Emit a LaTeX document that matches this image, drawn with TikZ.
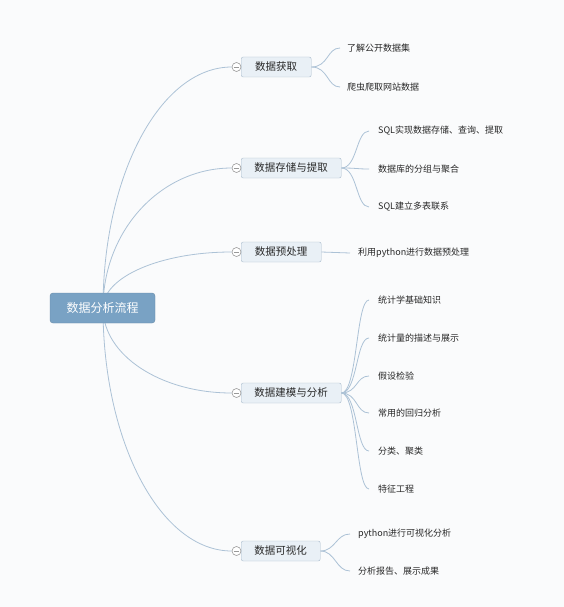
\documentclass[tikz,border=0pt]{standalone}
\usepackage{fontspec}
\newfontfamily\cjk{Noto Sans CJK SC}
\usetikzlibrary{backgrounds}
\definecolor{bgc}{RGB}{250,251,252}
\definecolor{rootc}{RGB}{121,162,196}
\definecolor{boxc}{RGB}{233,240,246}
\definecolor{boxline}{RGB}{170,188,204}
\definecolor{linkc}{RGB}{172,194,214}
\definecolor{txt}{RGB}{40,40,40}
\tikzset{
  rootbox/.style={draw=rootc!85!black, fill=rootc, rounded corners=3pt, minimum width=105pt, minimum height=30pt, inner sep=0pt, text=white, font=\cjk\fontsize{12}{12}\selectfont},
  branchbox/.style={draw=boxline, fill=boxc, rounded corners=2pt, minimum height=20pt, inner sep=0pt, text=txt, font=\cjk\fontsize{10.5}{10.5}\selectfont, anchor=west},
  leaf/.style={anchor=west, inner xsep=0pt, inner ysep=2pt, text=txt, font=\cjk\fontsize{9}{9}\selectfont},
  knob/.style={circle, draw=gray!80, fill=white, minimum size=9pt, inner sep=0pt, line width=0.6pt},
  link/.style={draw=linkc, line width=0.8pt},
}
\begin{document}
\begin{tikzpicture}[x=1pt,y=-1pt]
\useasboundingbox (0,0) rectangle (564,607);
\coordinate (rc) at (103,308);
\node[rootbox] (root) at (102.5,308) {数据分析流程};
% branches
\node[branchbox, minimum width=70pt] (b1) at (241,67) {数据获取};
\node[branchbox, minimum width=100pt] (b2) at (241,168) {数据存储与提取};
\node[branchbox, minimum width=80pt] (b3) at (241,252) {数据预处理};
\node[branchbox, minimum width=100pt] (b4) at (241,393) {数据建模与分析};
\node[branchbox, minimum width=79pt] (b5) at (241,551) {数据可视化};
\foreach \i/\y in {1/67,2/168,3/252,4/393,5/551}{
  \node[knob] (k\i) at (236.5,\y) {};
  \draw[gray!80, line width=0.6pt] ([xshift=-2.6pt]k\i.center) -- ([xshift=2.6pt]k\i.center);
}
% leaves
\node[leaf] (l11) at (347,48) {了解公开数据集};
\node[leaf] (l12) at (347,87) {爬虫爬取网站数据};
\node[leaf] (l21) at (378,131) {SQL实现数据存储、查询、提取};
\node[leaf] (l22) at (378,169) {数据库的分组与聚合};
\node[leaf] (l23) at (378,207) {SQL建立多表联系};
\node[leaf] (l31) at (358,253) {利用python进行数据预处理};
\node[leaf] (l41) at (378,300) {统计学基础知识};
\node[leaf] (l42) at (378,338) {统计量的描述与展示};
\node[leaf] (l43) at (378,376) {假设检验};
\node[leaf] (l44) at (378,413) {常用的回归分析};
\node[leaf] (l45) at (378,451) {分类、聚类};
\node[leaf] (l46) at (378,489) {特征工程};
\node[leaf] (l51) at (358,534) {python进行可视化分析};
\node[leaf] (l52) at (358,571) {分析报告、展示成果};
\begin{scope}[on background layer]
\fill[bgc] (0,0) rectangle (564,607);
\draw[link] (rc) .. controls (103,175) and (160.3,67) .. (k1.west);
\draw[link] (rc) .. controls (103,231) and (160.3,168) .. (k2.west);
\draw[link] (rc) .. controls (103,277) and (160.3,252) .. (k3.west);
\draw[link] (rc) .. controls (103,355) and (160.3,393) .. (k4.west);
\draw[link] (rc) .. controls (103,442) and (160.3,551) .. (k5.west);
% leaf links
\foreach \b/\l in {b1/l11,b1/l12}{
  \draw[link] (\b.east) .. controls +(17,0) and ([xshift=-20pt]\l.west) .. ([xshift=-7pt]\l.west);
}
\foreach \b/\l in {b2/l21,b2/l22,b2/l23,b4/l41,b4/l42,b4/l43,b4/l44,b4/l45,b4/l46}{
  \draw[link] (\b.east) .. controls +(16,0) and ([xshift=-22pt]\l.west) .. ([xshift=-9pt]\l.west);
}
\foreach \b/\l in {b3/l31,b5/l51,b5/l52}{
  \draw[link] (\b.east) .. controls +(15,0) and ([xshift=-22pt]\l.west) .. ([xshift=-8pt]\l.west);
}
\end{scope}
\end{tikzpicture}
\end{document}
